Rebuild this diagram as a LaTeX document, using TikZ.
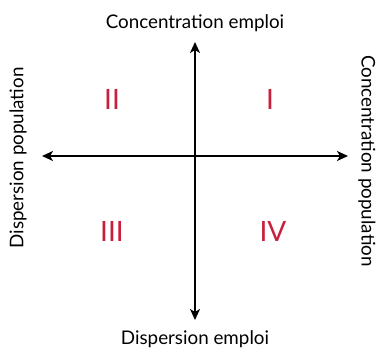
\documentclass[tikz,border=0pt]{standalone}
\usepackage{fontspec}
\setmainfont{Lato}
\usepackage{xcolor}
\usetikzlibrary{arrows.meta, positioning, calc}
\definecolor{quadred}{RGB}{200,32,60}

\begin{document}
\begin{tikzpicture}[
  x=1pt, y=-1pt,
  axe/.style  = {-{Stealth[length=11pt, width=10pt, inset=3pt]}, line width=2.4pt},
  lbl/.style  = {font=\fontsize{18.8}{20}\selectfont, inner sep=0pt},
  quad/.style = {font=\fontsize{28}{30}\selectfont, text=quadred, inner sep=0pt},
]
\useasboundingbox (0,0) rectangle (380,352);

% ── Centre and axis ends ──────────────────────────────────────────────────────
\coordinate (o)  at (195,156);
\coordinate (n)  at (195,42);
\coordinate (s)  at (195,320);
\coordinate (w)  at (42,156);
\coordinate (e)  at (348,156);

% ── Axes ──────────────────────────────────────────────────────────────────────
\draw[axe] (o) -- (n);
\draw[axe] (o) -- (s);
\draw[axe] (o) -- (w);
\draw[axe] (o) -- (e);

% ── Axis labels ───────────────────────────────────────────────────────────────
\node[lbl]                (ce) at (195,23)  {Concentration emploi};
\node[lbl]                (de) at (195,339) {Dispersion emploi};
\node[lbl, rotate=90]     (dp) at (18,158)  {Dispersion population};
\node[lbl, rotate=-90]    (cp) at (367,161) {Concentration population};

% ── Quadrants ─────────────────────────────────────────────────────────────────
\node[quad] (q1) at (270,99)  {I};
\node[quad] (q2) at (112,99)  {II};
\node[quad] (q3) at (112,231) {III};
\node[quad] (q4) at (273,231) {IV};

\end{tikzpicture}
\end{document}
